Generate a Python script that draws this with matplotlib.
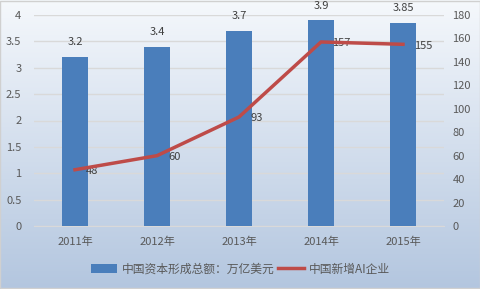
import numpy as np
import matplotlib
matplotlib.use("Agg")
import matplotlib.pyplot as plt
from matplotlib.colors import LinearSegmentedColormap

plt.rcParams['font.family'] = ['Noto Sans CJK SC', 'DejaVu Sans']

years = ["2011年", "2012年", "2013年", "2014年", "2015年"]
capital = [3.2, 3.4, 3.7, 3.9, 3.85]
capital_labels = ["3.2", "3.4", "3.7", "3.9", "3.85"]
ai_new = [48, 60, 93, 157, 155]
bar_name = "中国资本形成总额：万亿美元"
line_name = "中国新增AI企业"

W, H = 481, 289
fig = plt.figure(figsize=(W / 100, H / 100), dpi=100)

# gradient background
bg = fig.add_axes([0, 0, 1, 1], zorder=-10)
cmap = LinearSegmentedColormap.from_list("bg", ["#f5f8fc", "#b3c6df"])
grad = np.linspace(0, 1, 256).reshape(-1, 1)
bg.imshow(grad, aspect="auto", cmap=cmap, extent=[0, 1, 0, 1], origin="upper")
bg.set_xlim(0, 1); bg.set_ylim(0, 1)
bg.axis("off")
bg.add_patch(plt.Rectangle((0.001, 0.002), 0.997, 0.995, fill=False,
                           edgecolor="#d0d0d0", lw=1.0, transform=bg.transAxes))

ax = fig.add_axes([34 / W, 1 - 226 / H, 410 / W, (226 - 15) / H])
ax.patch.set_alpha(0)
x = np.arange(len(years))
bars = ax.bar(x, capital, width=0.32, color="#4a7ebb", zorder=3)
ax.set_ylim(0, 4)
ax.set_xlim(-0.5, 4.5)
ax.set_yticks(np.arange(0, 4.01, 0.5))
ax.set_yticklabels(["0", "0.5", "1", "1.5", "2", "2.5", "3", "3.5", "4"])
ax.grid(axis="y", color="#d9d9d9", lw=1, zorder=0)
ax.set_axisbelow(True)
ax.set_xticks(x)
ax.set_xticklabels(years)
for s in ["top", "right", "left"]:
    ax.spines[s].set_visible(False)
ax.spines["bottom"].set_color("#d9d9d9")
ax.tick_params(length=0, labelsize=8, colors="#595959", pad=8)
ax.tick_params(axis="y", pad=9)
for xi, v, lab in zip(x, capital, capital_labels):
    ax.annotate(lab, (xi, v), xytext=(0, 7), textcoords="offset points",
                ha="center", va="bottom", fontsize=8, color="#404040")

ax2 = ax.twinx()
ax2.set_ylim(0, 180)
ax2.set_yticks(np.arange(0, 181, 20))
line, = ax2.plot(x, ai_new, color="#be4b48", lw=2.5, zorder=4)
for s in ["top", "right", "left", "bottom"]:
    ax2.spines[s].set_visible(False)
ax2.tick_params(length=0, labelsize=8, colors="#595959", pad=6)
for xi, v in zip(x, ai_new):
    ax2.annotate(str(v), (xi, v), xytext=(8, -1), textcoords="offset points",
                 ha="left", va="center", fontsize=8, color="#404040")

fig.legend([bars, line], [bar_name, line_name], loc="center",
           bbox_to_anchor=(0.5, 1 - 269 / H), ncol=2, frameon=False,
           fontsize=8.5, labelcolor="#595959", handlelength=2.2,
           handletextpad=0.4, columnspacing=0.3)

fig.savefig("out.png", dpi=100)
